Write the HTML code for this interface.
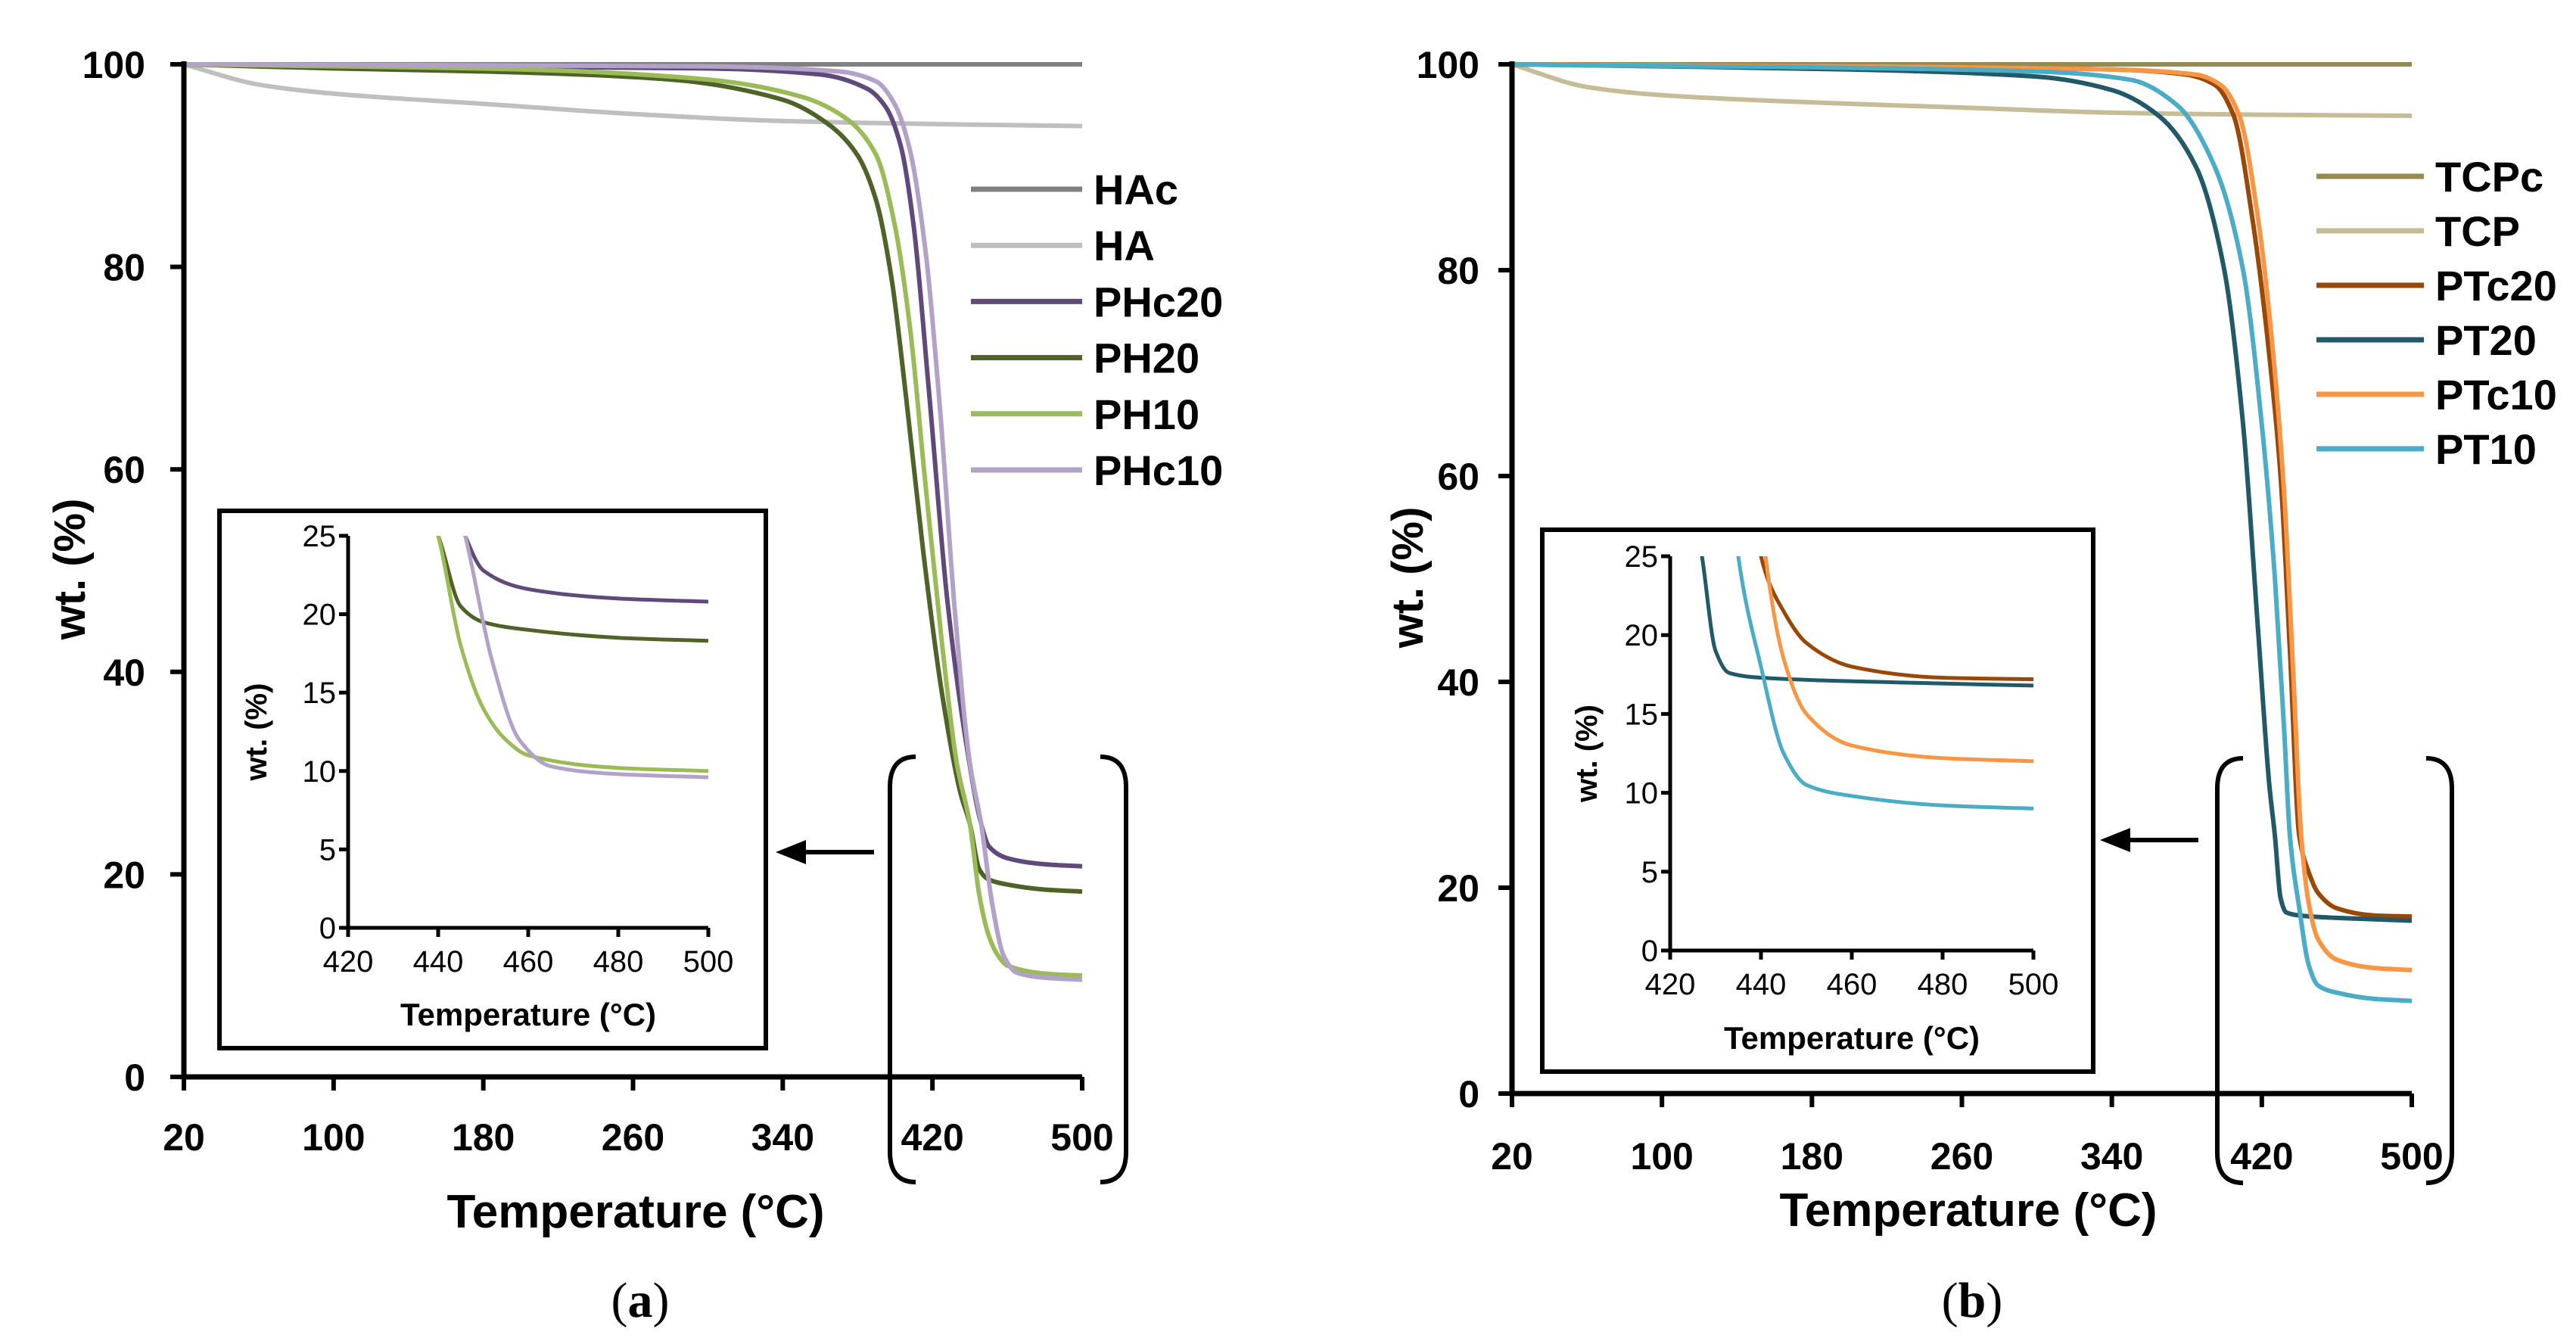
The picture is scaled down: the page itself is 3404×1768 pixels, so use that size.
<!DOCTYPE html>
<html><head><meta charset="utf-8"><style>
body{margin:0;background:#fff}
svg{display:block}
text{font-family:"Liberation Sans",sans-serif}
text.serif{font-family:"Liberation Serif",serif}
</style></head><body>
<svg id="fig" width="3404" height="1768" viewBox="0 0 3404 1768" xmlns="http://www.w3.org/2000/svg"></svg>
<script>
// ---- data (temperature °C, wt %) ----
const xTicks=[20,100,180,260,340,420,500];
const yTicks=[0,20,40,60,80,100];
const insetXTicks=[420,440,460,480,500];
const insetYTicks=[0,5,10,15,20,25];
const legendA=["HAc","HA","PHc20","PH20","PH10","PHc10"];
const legendB=["TCPc","TCP","PTc20","PT20","PTc10","PT10"];
const colorsA=["#808080","#bfbfbf","#604a7b","#4f6228","#9bbb59","#b3a2c7"];
const colorsB=["#948a54","#c4bd97","#984807","#215968","#f79646","#4bacc6"];
const HAc_T=[20,500]; const HAc_W=[100,100];
const HA_T=[20,60,100,180,260,340,420,500]; const HA_W=[100,98,97.1,96.1,95.1,94.4,94.1,93.9];
const PHc20_T=[20,300,360,385,395,403,410,418,428,438,446,450,460,480,500];
const PHc20_W=[100,99.6,99,97.6,95.8,92,84,68,47,33,25,22.8,21.6,21,20.8];
const PH20_T=[20,100,200,280,340,365,380,390,398,406,415,425,435,440,445,450,460,480,500];
const PH20_W=[100,99.6,99.2,98.5,96.5,94,91,86.5,79,67,52,38,28,25,20.5,19.5,19,18.5,18.3];
const PH10_T=[20,200,300,350,375,390,400,408,416,425,433,440,445,450,455,460,480,500];
const PH10_W=[100,99.5,98.5,96.8,94.5,91,84,74,59,43,31,25,18,14,12,11,10.2,10];
const PHc10_T=[20,300,370,390,400,408,416,424,432,440,446,452,458,465,480,500];
const PHc10_W=[100,99.8,99.3,98.3,96,91.5,82,66,46,31,25,17,12,10.3,9.8,9.6];
const TCPc_T=[20,500]; const TCPc_W=[100,100];
const TCP_T=[20,60,100,180,260,340,420,500]; const TCP_W=[100,97.8,97,96.3,95.8,95.3,95.1,95];
const PTc20_T=[20,340,380,395,405,415,425,430,435,440,445,450,460,480,500];
const PTc20_W=[100,99.5,99,98,95,85,70,60,43,25,21.5,19.5,18,17.3,17.2];
const PT20_T=[20,200,300,340,365,385,400,410,418,424,427,430,433,440,470,500];
const PT20_W=[100,99.5,98.8,97.5,95,90,80,65,45,30,25,19,17.6,17.3,17,16.8];
const PTc10_T=[20,340,385,398,408,418,427,432,437,441,445,450,460,480,500];
const PTc10_W=[100,99.5,99,98,95,85,70,58,40,25,18.5,15,13,12.2,12];
const PT10_T=[20,300,350,375,395,410,420,427,432,435,440,445,450,460,480,500];
const PT10_W=[100,99.3,98.5,96,90,80,65,50,35,25,18,12.5,10.5,9.8,9.2,9];
const seriesA=[[HAc_T,HAc_W],[HA_T,HA_W],[PHc20_T,PHc20_W],[PH20_T,PH20_W],[PH10_T,PH10_W],[PHc10_T,PHc10_W]];
const seriesB=[[TCPc_T,TCPc_W],[TCP_T,TCP_W],[PTc20_T,PTc20_W],[PT20_T,PT20_W],[PTc10_T,PTc10_W],[PT10_T,PT10_W]];

const NS="http://www.w3.org/2000/svg";
const svg=document.getElementById('fig');
function mk(tag,attrs,parent,txt){const e=document.createElementNS(NS,tag);for(const k in attrs)e.setAttribute(k,attrs[k]);if(txt!==undefined)e.textContent=txt;(parent||svg).appendChild(e);return e;}

function smoothPath(pts){
  const n=pts.length;
  let d="M"+pts[0][0].toFixed(1)+","+pts[0][1].toFixed(1);
  if(n<3){for(let i=1;i<n;i++)d+=" L"+pts[i][0].toFixed(1)+","+pts[i][1].toFixed(1);return d;}
  const dx=[],s=[];
  for(let i=0;i<n-1;i++){dx.push(pts[i+1][0]-pts[i][0]);s.push((pts[i+1][1]-pts[i][1])/dx[i]);}
  const m=[s[0]];
  for(let i=1;i<n-1;i++){
    if(s[i-1]*s[i]<=0)m.push(0);
    else{const w1=2*dx[i]+dx[i-1],w2=dx[i]+2*dx[i-1];m.push((w1+w2)/(w1/s[i-1]+w2/s[i]));}
  }
  m.push(s[n-2]);
  for(let i=0;i<n-1;i++){
    const h=dx[i]/3;
    const c1=[pts[i][0]+h,pts[i][1]+m[i]*h];
    const c2=[pts[i+1][0]-h,pts[i+1][1]-m[i+1]*h];
    d+=" C"+c1[0].toFixed(1)+","+c1[1].toFixed(1)+" "+c2[0].toFixed(1)+","+c2[1].toFixed(1)+" "+pts[i+1][0].toFixed(1)+","+pts[i+1][1].toFixed(1);
  }
  return d;
}

function panel(cfg){
  const g=mk('g',{});
  
  
  const X=t=>cfg.x0+(t-20)/480*(cfg.x1-cfg.x0);
  const Y=w=>cfg.y0-(w/100)*(cfg.y0-cfg.y1);
  cfg.series.forEach((s,i)=>{
    const pts=s[0].map((t,j)=>[X(t),Y(s[1][j])]);
    const p=mk('path',{d:smoothPath(pts),fill:'none',stroke:cfg.colors[i],'stroke-width':6,'stroke-linejoin':'round'},g);
    
    
  });
  const ax=mk('path',{d:`M${cfg.x0},${cfg.y1-4} V${cfg.y0} H${cfg.x1}`,fill:'none',stroke:'#000','stroke-width':7},g);
  
  
  xTicks.forEach(t=>{
    mk('line',{x1:X(t),x2:X(t),y1:cfg.y0,y2:cfg.y0+18,stroke:'#000','stroke-width':6},g);
    const tx=mk('text',{x:X(t),y:cfg.xLabY,'font-size':50,'font-weight':'bold','text-anchor':'middle'},g,t);
    
    
  });
  yTicks.forEach(w=>{
    mk('line',{x1:cfg.x0-18,x2:cfg.x0,y1:Y(w),y2:Y(w),stroke:'#000','stroke-width':6},g);
    const tx=mk('text',{x:cfg.yLabX,y:Y(w)+18,'font-size':50,'font-weight':'bold','text-anchor':'end'},g,w);
    
    
  });
  const xt=mk('text',{x:cfg.xTitle[0],y:cfg.xTitle[1],'font-size':62,'font-weight':'bold','text-anchor':'middle'},g,'Temperature (°C)');
  
  
  const yt=mk('text',{x:0,y:0,'font-size':58,'font-weight':'bold','text-anchor':'middle',transform:`translate(${cfg.yTitle[0]},${cfg.yTitle[1]}) rotate(-90)`},g,'wt. (%)');
  
  
  cfg.labels.forEach((l,i)=>{
    const y=cfg.leg.y+i*cfg.leg.dy;
    const lg=mk('g',{},g);
    
    
    mk('line',{x1:cfg.leg.x0,x2:cfg.leg.x1,y1:y,y2:y,stroke:cfg.colors[i],'stroke-width':7},lg);
    mk('text',{x:cfg.leg.tx,y:y+20,'font-size':56,'font-weight':'bold'},lg,l);
  });
  const b=cfg.br;
  const br=mk('path',{d:`M${b.l+34},${b.t} Q${b.l},${b.t} ${b.l},${b.t+40} V${b.b-40} Q${b.l},${b.b} ${b.l+34},${b.b} M${b.r-34},${b.t} Q${b.r},${b.t} ${b.r},${b.t+40} V${b.b-40} Q${b.r},${b.b} ${b.r-34},${b.b}`,fill:'none',stroke:'#000','stroke-width':6},g);
  
  
  const a=cfg.arrow;
  const ar=mk('g',{},g);
  
  
  mk('line',{x1:a.x1,x2:a.x0+30,y1:a.y,y2:a.y,stroke:'#000','stroke-width':6},ar);
  mk('path',{d:`M${a.x0},${a.y} L${a.x0+40},${a.y-16} L${a.x0+40},${a.y+16} Z`,fill:'#000'},ar);
  const I=cfg.inset;
  const ig=mk('g',{},g);
  
  
  mk('rect',{x:I.bx0,y:I.by0,width:I.bx1-I.bx0,height:I.by1-I.by0,fill:'#fff',stroke:'#000','stroke-width':6},ig);
  const IX=t=>I.x0+(t-420)/80*(I.x1-I.x0);
  const IY=w=>I.y0-(w/25)*(I.y0-I.y1);
  const cid='clip'+cfg.name;
  const cp=mk('clipPath',{id:cid},ig);
  mk('rect',{x:I.x0,y:I.y1,width:I.x1-I.x0+4,height:I.y0-I.y1},cp);
  const cg=mk('g',{'clip-path':`url(#${cid})`},ig);
  cfg.series.forEach((s,i)=>{
    if(i<2)return;
    const pts=s[0].map((t,j)=>[IX(t),IY(s[1][j])]);
    const p=mk('path',{d:smoothPath(pts),fill:'none',stroke:cfg.colors[i],'stroke-width':5,'stroke-linejoin':'round'},cg);
    
    
  });
  mk('path',{d:`M${I.x0},${I.y1} V${I.y0} H${I.x1}`,fill:'none',stroke:'#000','stroke-width':5},ig);
  insetXTicks.forEach(t=>{
    mk('line',{x1:IX(t),x2:IX(t),y1:I.y0,y2:I.y0+12,stroke:'#000','stroke-width':5},ig);
    mk('text',{x:IX(t),y:I.y0+58,'font-size':40,'text-anchor':'middle'},ig,t);
  });
  insetYTicks.forEach(w=>{
    mk('line',{x1:I.x0-12,x2:I.x0,y1:IY(w),y2:IY(w),stroke:'#000','stroke-width':5},ig);
    mk('text',{x:I.x0-16,y:IY(w)+14,'font-size':40,'text-anchor':'end'},ig,w);
  });
  mk('text',{x:(I.x0+I.x1)/2,y:I.by1-30,'font-size':42,'font-weight':'bold','text-anchor':'middle'},ig,'Temperature (°C)');
  mk('text',{x:0,y:0,'font-size':40,'font-weight':'bold','text-anchor':'middle',transform:`translate(${I.ytx},${(I.y0+I.y1)/2}) rotate(-90)`},ig,'wt. (%)');
  const pl=mk('text',{x:cfg.lab[0],y:cfg.lab[1],'font-size':66,'text-anchor':'middle','class':'serif'},g);
  
  
  mk('tspan',{},pl,'(');mk('tspan',{'font-weight':'bold'},pl,cfg.letter);mk('tspan',{},pl,')');
}

panel({name:'panel-a',letter:'a',x0:243,x1:1430,y0:1423,y1:85,series:seriesA,colors:colorsA,labels:legendA,
  xLabY:1520,yLabX:192,xTitle:[840,1622],yTitle:[112,752],
  leg:{x0:1283,x1:1430,tx:1445,y:250,dy:74.2},
  br:{l:1176,r:1488,t:1000,b:1562},arrow:{x0:1025,x1:1155,y:1126},
  inset:{bx0:290,by0:675,bx1:1012,by1:1385,x0:460,x1:936,y0:1226,y1:708,ytx:352},
  lab:[846,1740]});
panel({name:'panel-b',letter:'b',x0:1998,x1:3187,y0:1445,y1:85,series:seriesB,colors:colorsB,labels:legendB,
  xLabY:1545,yLabX:1955,xTitle:[2601,1620],yTitle:[1880,763],
  leg:{x0:3061,x1:3203,tx:3218,y:233,dy:72},
  br:{l:2930,r:3240,t:1002,b:1563},arrow:{x0:2775,x1:2905,y:1110},
  inset:{bx0:2038,by0:700,bx1:2766,by1:1416,x0:2207,x1:2687,y0:1256,y1:735,ytx:2110},
  lab:[2606,1740]});
</script>
</body></html>
